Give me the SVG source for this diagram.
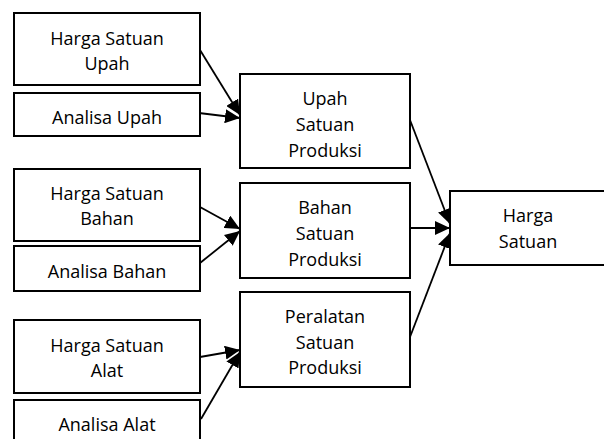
<svg xmlns="http://www.w3.org/2000/svg" width="604" height="439" viewBox="0 0 604 439">
<style>
.box{fill:#fff;stroke:#000;stroke-width:2}
.t{font-family:"Open Sans","Noto Sans",sans-serif;font-size:18px;text-anchor:middle;fill:#000}
.c{stroke:#000;stroke-width:1.8;fill:none;marker-end:url(#ah)}
</style>
<defs>
<marker id="ah" markerUnits="userSpaceOnUse" markerWidth="16" markerHeight="14" refX="15" refY="7" orient="auto">
<path d="M0,0 L15,7 L0,14 z" fill="#000"/>
</marker>
</defs>
<g id="connectors">
<line class="c" x1="200" y1="50" x2="240" y2="115"/>
<line class="c" x1="199" y1="113" x2="240" y2="118"/>
<line class="c" x1="200" y1="207" x2="240" y2="229"/>
<line class="c" x1="200" y1="263" x2="240" y2="231"/>
<line class="c" x1="200" y1="357" x2="240" y2="350"/>
<line class="c" x1="201" y1="419" x2="240" y2="352"/>
<line class="c" x1="410" y1="120" x2="450" y2="224"/>
<line class="c" x1="410" y1="228" x2="450" y2="228"/>
<line class="c" x1="410" y1="337" x2="450" y2="233"/>
</g>
<g id="n1"><rect class="box" x="14" y="13" width="186" height="72"/><text class="t" x="107" y="45">Harga Satuan</text><text class="t" x="107" y="70">Upah</text></g>
<g id="n2"><rect class="box" x="14" y="93" width="186" height="43"/><text class="t" x="107" y="124">Analisa Upah</text></g>
<g id="n3"><rect class="box" x="14" y="169" width="186" height="72"/><text class="t" x="107" y="200">Harga Satuan</text><text class="t" x="107" y="225">Bahan</text></g>
<g id="n4"><rect class="box" x="14" y="246" width="186" height="45"/><text class="t" x="107" y="278">Analisa Bahan</text></g>
<g id="n5"><rect class="box" x="14" y="320" width="186" height="73"/><text class="t" x="107" y="352">Harga Satuan</text><text class="t" x="107" y="377">Alat</text></g>
<g id="n6"><rect class="box" x="14" y="400" width="186" height="50"/><text class="t" x="107" y="431">Analisa Alat</text></g>
<g id="n7"><rect class="box" x="240" y="74" width="170" height="94"/><text class="t" x="325" y="105">Upah</text><text class="t" x="325" y="131">Satuan</text><text class="t" x="325" y="157">Produksi</text></g>
<g id="n8"><rect class="box" x="240" y="183" width="170" height="95"/><text class="t" x="325" y="214">Bahan</text><text class="t" x="325" y="240">Satuan</text><text class="t" x="325" y="266">Produksi</text></g>
<g id="n9"><rect class="box" x="240" y="292" width="170" height="95"/><text class="t" x="325" y="323">Peralatan</text><text class="t" x="325" y="349">Satuan</text><text class="t" x="325" y="374">Produksi</text></g>
<g id="n10"><rect class="box" x="450" y="191" width="170" height="74"/><text class="t" x="528" y="222">Harga</text><text class="t" x="528" y="248">Satuan</text></g>
</svg>
